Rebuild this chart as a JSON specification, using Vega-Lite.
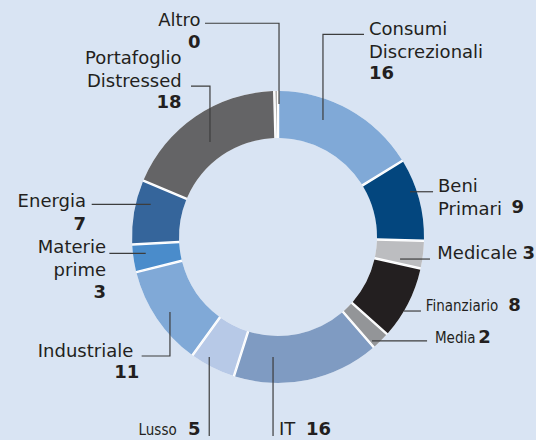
{
  "$schema": "https://vega.github.io/schema/vega-lite/v6.json",
  "width": 536,
  "height": 440,
  "autosize": {"type": "none"},
  "padding": 0,
  "background": "#d9e4f3",
  "config": {"view": {"stroke": null}, "text": {"font": "DejaVu Sans", "fontSize": 18, "color": "#231f20", "baseline": "alphabetic", "lineHeight": 22.5}},
  "datasets": {
    "slices": [
      {"idx": 1, "cat": "Consumi Discrezionali", "value": 16},
      {"idx": 2, "cat": "Beni Primari", "value": 9},
      {"idx": 3, "cat": "Medicale", "value": 3},
      {"idx": 4, "cat": "Finanziario", "value": 8},
      {"idx": 5, "cat": "Media", "value": 2},
      {"idx": 6, "cat": "IT", "value": 16},
      {"idx": 7, "cat": "Lusso", "value": 5},
      {"idx": 8, "cat": "Industriale", "value": 11},
      {"idx": 9, "cat": "Materie prime", "value": 3},
      {"idx": 10, "cat": "Energia", "value": 7},
      {"idx": 11, "cat": "Portafoglio Distressed", "value": 18},
      {"idx": 12, "cat": "Altro", "value": 0.4}
    ],
    "labels": [
      {"cat": "Consumi Discrezionali", "name": ["Consumi", "Discrezionali"], "side": "R", "nx": 62.3, "ny": 138.2, "vx": 62.3, "vy": 107.9},
      {"cat": "Beni Primari", "name": ["Beni", "Primari"], "side": "R", "nx": 109.6, "ny": 30.6, "vx": 159.9, "vy": 16.2},
      {"cat": "Medicale", "name": ["Medicale"], "side": "R", "nx": 109.1, "ny": -15.1, "vx": 167.5, "vy": -15.1},
      {"cat": "Finanziario", "name": ["Finanziario"], "side": "R", "nx": 101.2, "ny": -50.5, "vx": 157.7, "vy": -50.5},
      {"cat": "Media", "name": ["Media"], "side": "R", "nx": 107.5, "ny": -72.8, "vx": 137.2, "vy": -72.8},
      {"cat": "IT", "name": ["IT"], "side": "R", "nx": 0.7, "ny": -135.6, "vx": 19.2, "vy": -135.6},
      {"cat": "Lusso", "name": ["Lusso"], "side": "L", "nx": -69.4, "ny": -135.6, "vx": -53.0, "vy": -135.6},
      {"cat": "Industriale", "name": ["Industriale"], "side": "L", "nx": -99.1, "ny": -82.0, "vx": -95.0, "vy": -96.8},
      {"cat": "Materie prime", "name": ["Materie", "prime"], "side": "L", "nx": -117.8, "ny": -11.2, "vx": -117.8, "vy": -42.0},
      {"cat": "Energia", "name": ["Energia"], "side": "L", "nx": -131.5, "ny": 20.3, "vx": -131.5, "vy": 4.8},
      {"cat": "Portafoglio Distressed", "name": ["Portafoglio", "Distressed"], "side": "L", "nx": -66.0, "ny": 118.3, "vx": -66.0, "vy": 88.2},
      {"cat": "Altro", "name": ["Altro"], "side": "L", "nx": -53.0, "ny": 144.5, "vx": -53.0, "vy": 129.3}
    ],
    "leaders": [
      {"cat": "Altro", "i": 1, "x": -50.0, "y": 146.4},
      {"cat": "Altro", "i": 2, "x": 0.7, "y": 146.4},
      {"cat": "Altro", "i": 3, "x": 0.7, "y": 91.1},
      {"cat": "Portafoglio Distressed", "i": 1, "x": -59.6, "y": 103.4},
      {"cat": "Portafoglio Distressed", "i": 2, "x": -46.6, "y": 103.4},
      {"cat": "Portafoglio Distressed", "i": 3, "x": -46.6, "y": 65.1},
      {"cat": "Consumi Discrezionali", "i": 1, "x": 58.9, "y": 138.8},
      {"cat": "Consumi Discrezionali", "i": 2, "x": 30.8, "y": 138.8},
      {"cat": "Consumi Discrezionali", "i": 3, "x": 30.8, "y": 80.1},
      {"cat": "Beni Primari", "i": 1, "x": 90.4, "y": 31.0},
      {"cat": "Beni Primari", "i": 2, "x": 106.2, "y": 31.0},
      {"cat": "Medicale", "i": 1, "x": 83.6, "y": -15.1},
      {"cat": "Medicale", "i": 2, "x": 104.1, "y": -15.1},
      {"cat": "Finanziario", "i": 1, "x": 86.3, "y": -50.7},
      {"cat": "Finanziario", "i": 2, "x": 97.9, "y": -50.7},
      {"cat": "Media", "i": 1, "x": 64.4, "y": -71.2},
      {"cat": "Media", "i": 2, "x": 102.1, "y": -71.2},
      {"cat": "IT", "i": 1, "x": -3.4, "y": -82.2},
      {"cat": "IT", "i": 2, "x": -3.4, "y": -136.3},
      {"cat": "Lusso", "i": 1, "x": -47.1, "y": -82.2},
      {"cat": "Lusso", "i": 2, "x": -47.1, "y": -136.3},
      {"cat": "Industriale", "i": 1, "x": -93.4, "y": -81.5},
      {"cat": "Industriale", "i": 2, "x": -74.0, "y": -81.5},
      {"cat": "Industriale", "i": 3, "x": -74.0, "y": -51.4},
      {"cat": "Materie prime", "i": 1, "x": -115.5, "y": -11.2},
      {"cat": "Materie prime", "i": 2, "x": -90.6, "y": -11.2},
      {"cat": "Energia", "i": 1, "x": -127.6, "y": 22.4},
      {"cat": "Energia", "i": 2, "x": -87.2, "y": 22.4}
    ]
  },
  "layer": [
    {
      "data": {"name": "slices"},
      "mark": {"type": "arc", "innerRadius": 99, "outerRadius": 146, "fill": "#ffffff"},
      "encoding": {
        "theta": {"field": "value", "type": "quantitative", "stack": true},
        "order": {"field": "idx", "type": "quantitative"},
        "x": {"datum": 0, "type": "quantitative", "scale": {"domain": [-190.41, 176.71], "nice": false, "zero": false}, "axis": null},
        "y": {"datum": 0, "type": "quantitative", "scale": {"domain": [-139.04, 162.33], "nice": false, "zero": false}, "axis": null}
      }
    },
    {
      "data": {"name": "slices"},
      "mark": {"type": "arc", "innerRadius": 99, "outerRadius": 146, "padAngle": 0.014},
      "encoding": {
        "theta": {"field": "value", "type": "quantitative", "stack": true},
        "order": {"field": "idx", "type": "quantitative"},
        "x": {"datum": 0, "type": "quantitative", "scale": {"domain": [-190.41, 176.71], "nice": false, "zero": false}, "axis": null},
        "y": {"datum": 0, "type": "quantitative", "scale": {"domain": [-139.04, 162.33], "nice": false, "zero": false}, "axis": null},
        "color": {
          "field": "cat", "type": "nominal", "legend": null,
          "scale": {
            "domain": ["Consumi Discrezionali", "Beni Primari", "Medicale", "Finanziario", "Media", "IT", "Lusso", "Industriale", "Materie prime", "Energia", "Portafoglio Distressed", "Altro"],
            "range": ["#80a9d7", "#03467e", "#bcbdc0", "#231f20", "#939598", "#7f9bc2", "#b7c9e7", "#80a9d7", "#4a8ccb", "#35659b", "#646466", "#9d9d9d"]
          }
        }
      }
    },
    {
      "data": {"name": "leaders"},
      "mark": {"type": "line", "color": "#3d3d3d", "strokeWidth": 1.2},
      "encoding": {
        "x": {"field": "x", "type": "quantitative", "scale": {"domain": [-190.41, 176.71], "nice": false, "zero": false}, "axis": null},
        "y": {"field": "y", "type": "quantitative", "scale": {"domain": [-139.04, 162.33], "nice": false, "zero": false}, "axis": null},
        "detail": {"field": "cat", "type": "nominal"},
        "order": {"field": "i", "type": "quantitative"}
      }
    },
    {
      "data": {"name": "labels"},
      "transform": [{"filter": "datum.side === 'R' && indexof(['Finanziario','Media'], datum.cat) < 0"}],
      "mark": {"type": "text", "align": "left"},
      "encoding": {
        "x": {"field": "nx", "type": "quantitative", "scale": {"domain": [-190.41, 176.71], "nice": false, "zero": false}, "axis": null},
        "y": {"field": "ny", "type": "quantitative", "scale": {"domain": [-139.04, 162.33], "nice": false, "zero": false}, "axis": null},
        "text": {"field": "name", "type": "nominal"}
      }
    },
    {
      "data": {"name": "labels"},
      "transform": [{"filter": "indexof(['Finanziario','Media'], datum.cat) >= 0"}],
      "mark": {"type": "text", "align": "left", "font": "DejaVu Sans Condensed, Liberation Sans", "fontSize": 15},
      "encoding": {
        "x": {"field": "nx", "type": "quantitative", "scale": {"domain": [-190.41, 176.71], "nice": false, "zero": false}, "axis": null},
        "y": {"field": "ny", "type": "quantitative", "scale": {"domain": [-139.04, 162.33], "nice": false, "zero": false}, "axis": null},
        "text": {"field": "name", "type": "nominal"}
      }
    },
    {
      "data": {"name": "labels"},
      "transform": [{"filter": "datum.side === 'L' && datum.cat !== 'Lusso'"}],
      "mark": {"type": "text", "align": "right"},
      "encoding": {
        "x": {"field": "nx", "type": "quantitative", "scale": {"domain": [-190.41, 176.71], "nice": false, "zero": false}, "axis": null},
        "y": {"field": "ny", "type": "quantitative", "scale": {"domain": [-139.04, 162.33], "nice": false, "zero": false}, "axis": null},
        "text": {"field": "name", "type": "nominal"}
      }
    },
    {
      "data": {"name": "labels"},
      "transform": [{"filter": "datum.cat === 'Lusso'"}],
      "mark": {"type": "text", "align": "right", "font": "DejaVu Sans Condensed, Liberation Sans", "fontSize": 15},
      "encoding": {
        "x": {"field": "nx", "type": "quantitative", "scale": {"domain": [-190.41, 176.71], "nice": false, "zero": false}, "axis": null},
        "y": {"field": "ny", "type": "quantitative", "scale": {"domain": [-139.04, 162.33], "nice": false, "zero": false}, "axis": null},
        "text": {"field": "name", "type": "nominal"}
      }
    },
    {
      "data": {"name": "labels"},
      "transform": [
        {"lookup": "cat", "from": {"data": {"name": "slices"}, "key": "cat", "fields": ["value"]}},
        {"filter": "datum.side === 'R'"}
      ],
      "mark": {"type": "text", "align": "left", "fontWeight": "bold"},
      "encoding": {
        "x": {"field": "vx", "type": "quantitative", "scale": {"domain": [-190.41, 176.71], "nice": false, "zero": false}, "axis": null},
        "y": {"field": "vy", "type": "quantitative", "scale": {"domain": [-139.04, 162.33], "nice": false, "zero": false}, "axis": null},
        "text": {"field": "value", "type": "quantitative", "format": ".0f"}
      }
    },
    {
      "data": {"name": "labels"},
      "transform": [
        {"lookup": "cat", "from": {"data": {"name": "slices"}, "key": "cat", "fields": ["value"]}},
        {"filter": "datum.side === 'L'"}
      ],
      "mark": {"type": "text", "align": "right", "fontWeight": "bold"},
      "encoding": {
        "x": {"field": "vx", "type": "quantitative", "scale": {"domain": [-190.41, 176.71], "nice": false, "zero": false}, "axis": null},
        "y": {"field": "vy", "type": "quantitative", "scale": {"domain": [-139.04, 162.33], "nice": false, "zero": false}, "axis": null},
        "text": {"field": "value", "type": "quantitative", "format": ".0f"}
      }
    }
  ]
}
